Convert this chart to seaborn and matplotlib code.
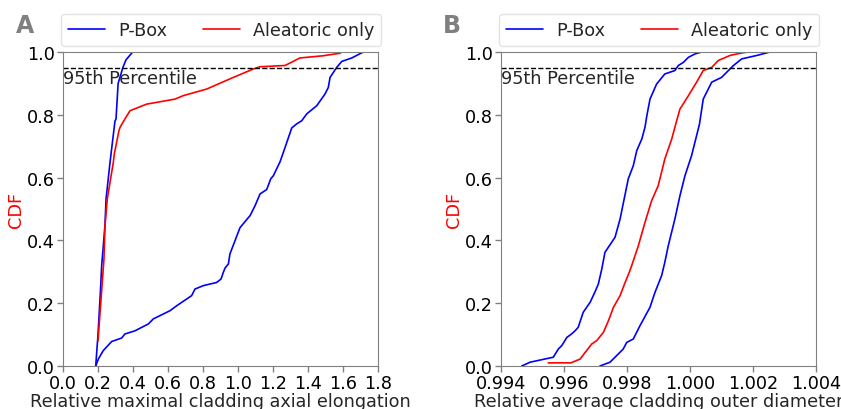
import numpy as np
import pandas as pd
import matplotlib
matplotlib.use("Agg")
import matplotlib.pyplot as plt
import seaborn as sns

# ---- Panel A: relative maximal cladding axial elongation ----
a_pbox_lo_x = [0.187, 0.200, 0.215, 0.221, 0.230, 0.240, 0.246, 0.269, 0.297, 0.303,
               0.315, 0.343, 0.360, 0.398]
a_pbox_lo_y = [0.000, 0.100, 0.250, 0.320, 0.380, 0.450, 0.532, 0.650, 0.780, 0.787,
               0.900, 0.952, 0.975, 1.000]
a_pbox_hi_x = [0.187, 0.202, 0.230, 0.278, 0.335, 0.354, 0.411, 0.488, 0.516, 0.611,
               0.650, 0.735, 0.754, 0.802, 0.878, 0.903, 0.916, 0.926, 0.945, 0.954,
               1.011, 1.021, 1.069, 1.097, 1.126, 1.164, 1.187, 1.202, 1.240, 1.259,
               1.307, 1.335, 1.364, 1.393, 1.450, 1.497, 1.516, 1.526, 1.564, 1.593,
               1.650, 1.716]
a_pbox_hi_y = [0.000, 0.022, 0.049, 0.078, 0.089, 0.102, 0.112, 0.134, 0.150, 0.176,
               0.192, 0.224, 0.245, 0.256, 0.266, 0.277, 0.298, 0.312, 0.325, 0.357,
               0.440, 0.447, 0.479, 0.510, 0.548, 0.562, 0.596, 0.606, 0.650, 0.680,
               0.758, 0.771, 0.781, 0.803, 0.829, 0.866, 0.887, 0.919, 0.951, 0.970,
               0.981, 1.000]
a_alea_x = [0.200, 0.234, 0.240, 0.253, 0.288, 0.293, 0.320, 0.326, 0.354, 0.383,
            0.478, 0.640, 0.687, 0.821, 0.973, 1.088, 1.126, 1.269, 1.354, 1.486,
            1.583, 1.590]
a_alea_y = [0.080, 0.340, 0.447, 0.532, 0.650, 0.675, 0.750, 0.760, 0.787, 0.813,
            0.834, 0.850, 0.861, 0.882, 0.919, 0.946, 0.953, 0.957, 0.981, 0.988,
            0.996, 1.000]

# ---- Panel B: relative average cladding outer diameter ----
b_pbox_lo_x = [0.99466, 0.99492, 0.99566, 0.99582, 0.99593, 0.99609, 0.99624, 0.99635,
               0.99645, 0.99661, 0.99683, 0.99698, 0.99709, 0.99720, 0.99730, 0.99762,
               0.99778, 0.99804, 0.99820, 0.99831, 0.99847, 0.99857, 0.99863, 0.99873,
               0.99894, 0.99920, 0.99952, 0.99963, 0.99979, 0.99995, 1.00016, 1.00037]
b_pbox_lo_y = [0.000, 0.012, 0.028, 0.054, 0.065, 0.091, 0.102, 0.112,
               0.123, 0.171, 0.203, 0.235, 0.261, 0.309, 0.362, 0.410,
               0.468, 0.596, 0.638, 0.686, 0.723, 0.760, 0.797, 0.850,
               0.898, 0.930, 0.941, 0.957, 0.967, 0.983, 0.994, 1.000]
b_pbox_hi_x = [0.99714, 0.99746, 0.99767, 0.99788, 0.99799, 0.99820, 0.99841, 0.99873,
               0.99889, 0.99910, 0.99920, 0.99931, 0.99952, 0.99968, 0.99984, 1.00005,
               1.00021, 1.00030, 1.00042, 1.00069, 1.00100, 1.00138, 1.00164, 1.00212,
               1.00254]
b_pbox_hi_y = [0.000, 0.012, 0.033, 0.054, 0.075, 0.086, 0.128, 0.187,
               0.235, 0.288, 0.330, 0.383, 0.468, 0.542, 0.606, 0.670,
               0.734, 0.770, 0.850, 0.904, 0.919, 0.957, 0.978, 0.989,
               1.000]
b_alea_x = [0.99550, 0.99622, 0.99651, 0.99667, 0.99688, 0.99704, 0.99725, 0.99741,
            0.99757, 0.99778, 0.99794, 0.99807, 0.99815, 0.99836, 0.99857, 0.99878,
            0.99899, 0.99920, 0.99942, 0.99956, 0.99968, 0.99995, 1.00021, 1.00042,
            1.00069, 1.00090, 1.00127, 1.00164, 1.00185]
b_alea_y = [0.010, 0.010, 0.022, 0.043, 0.070, 0.081, 0.107, 0.144,
            0.187, 0.224, 0.266, 0.298, 0.320, 0.383, 0.457, 0.526,
            0.574, 0.659, 0.723, 0.775, 0.818, 0.861, 0.904, 0.941,
            0.951, 0.973, 0.989, 0.997, 1.000]

a_xticks = [0.0, 0.2, 0.4, 0.6, 0.8, 1.0, 1.2, 1.4, 1.6, 1.8]
b_xticks = [0.994, 0.996, 0.998, 1.000, 1.002, 1.004]
y_ticks = [0.0, 0.2, 0.4, 0.6, 0.8, 1.0]

sns.set_style("white")
plt.rcParams["font.family"] = ["DejaVu Sans"]
plt.rcParams["axes.edgecolor"] = "#808080"
plt.rcParams["xtick.color"] = "#808080"
plt.rcParams["ytick.color"] = "#808080"
plt.rcParams["xtick.labelcolor"] = "black"
plt.rcParams["ytick.labelcolor"] = "black"
plt.rcParams["xtick.bottom"] = True
plt.rcParams["ytick.left"] = True

FS = 12.7
W, H = 841, 410
fig = plt.figure(figsize=(W / 100, H / 100), dpi=100)
ax_a = fig.add_axes([63 / W, 43 / H, 315 / W, 314 / H])
ax_b = fig.add_axes([501 / W, 43 / H, 315 / W, 314 / H])


def frame(lo_x, lo_y, hi_x, hi_y, al_x, al_y):
    parts = [
        pd.DataFrame({"x": lo_x, "y": lo_y, "curve": "lo", "kind": "P-Box"}),
        pd.DataFrame({"x": hi_x, "y": hi_y, "curve": "hi", "kind": "P-Box"}),
        pd.DataFrame({"x": al_x, "y": al_y, "curve": "al", "kind": "Aleatoric only"}),
    ]
    return pd.concat(parts, ignore_index=True)


panels = [
    (ax_a, frame(a_pbox_lo_x, a_pbox_lo_y, a_pbox_hi_x, a_pbox_hi_y, a_alea_x, a_alea_y),
     a_xticks, "Relative maximal cladding axial elongation", "A", 16, 61, "{:.1f}"),
    (ax_b, frame(b_pbox_lo_x, b_pbox_lo_y, b_pbox_hi_x, b_pbox_hi_y, b_alea_x, b_alea_y),
     b_xticks, "Relative average cladding outer diameter", "B", 443, 499, "{:.3f}"),
]

for ax, df, xt, xlabel, letter, letter_x, legend_x, fmt in panels:
    sns.lineplot(data=df, x="x", y="y", hue="kind", units="curve", estimator=None,
                 sort=False, palette={"P-Box": "blue", "Aleatoric only": "red"},
                 hue_order=["P-Box", "Aleatoric only"], linewidth=1.2, ax=ax)
    ax.axhline(0.95, color="black", linestyle="--", linewidth=1.0)
    ax.text(xt[0], 0.945, "95th Percentile", ha="left", va="top", fontsize=FS)
    ax.set_xlim(xt[0], xt[-1])
    ax.set_ylim(0, 1)
    ax.set_xticks(xt)
    ax.set_xticklabels([fmt.format(v) for v in xt], fontsize=FS)
    ax.set_yticks(y_ticks)
    ax.set_yticklabels([f"{v:.1f}" for v in y_ticks], fontsize=FS)
    ax.tick_params(length=4, width=1, pad=2)
    ax.set_xlabel(xlabel, fontsize=FS, labelpad=0)
    ax.set_ylabel("CDF", fontsize=FS, color="red", labelpad=1)
    for s in ax.spines.values():
        s.set_visible(True)
        s.set_color("#808080")
    ax.legend(loc="lower left", bbox_to_anchor=(legend_x / W, (H - 47) / H),
              bbox_transform=fig.transFigure, ncol=2, fontsize=FS, frameon=True,
              borderaxespad=0, handlelength=2.1, handletextpad=0.75,
              columnspacing=2.0, edgecolor="#dddddd")
    fig.text(letter_x / W, (H - 33) / H, letter, fontsize=17, fontweight="bold",
             color="#808080", ha="left", va="baseline")

fig.savefig("out.png", dpi=100)
